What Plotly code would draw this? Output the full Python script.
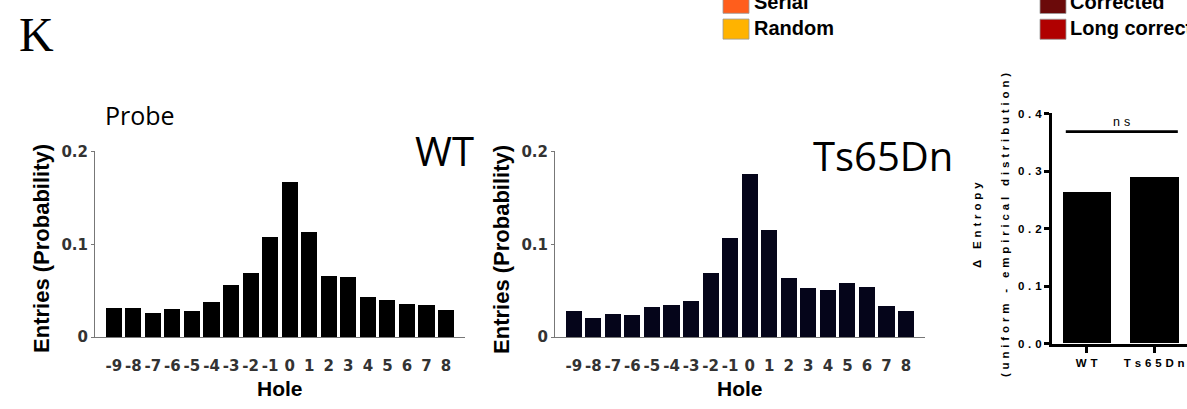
import plotly.graph_objects as go

# ---- data -------------------------------------------------------------
holes = [-9, -8, -7, -6, -5, -4, -3, -2, -1, 0, 1, 2, 3, 4, 5, 6, 7, 8]
hole_labels = [str(h) for h in holes]

wt_prob = [0.031, 0.031, 0.026, 0.030, 0.028, 0.037, 0.056, 0.069, 0.107,
           0.167, 0.113, 0.065, 0.064, 0.043, 0.040, 0.035, 0.034, 0.029]
ts_prob = [0.028, 0.020, 0.025, 0.023, 0.032, 0.034, 0.038, 0.069, 0.106,
           0.175, 0.115, 0.063, 0.052, 0.050, 0.058, 0.054, 0.033, 0.028]

groups = ["WT", "Ts65Dn"]
delta_entropy = [0.262, 0.289]

hist_ticks = [0, 0.1, 0.2]
hist_tick_labels = ["0", "0.1", "0.2"]
ent_ticks = [0.0, 0.1, 0.2, 0.3, 0.4]
ent_tick_labels = ["0.0", "0.1", "0.2", "0.3", "0.4"]

legend_left = [("Serial", "#ff5e1c"), ("Random", "#ffb300")]
legend_right = [("Corrected", "#6b0a0a"), ("Long corrected", "#b00000")]

# ---- page geometry (pixels) -------------------------------------------
W, H = 1187, 409


def fx(p):
    return p / W


def fy(p):
    return 1 - p / H


def spaced(s, gap="\u2004"):
    """Letter-spaced text (Prism style)."""
    return gap.join(s)


fig = go.Figure()

fig.add_trace(go.Bar(x=holes, y=wt_prob, width=0.82, marker_color="#000000",
                     marker_line_width=0, xaxis="x", yaxis="y",
                     showlegend=False))
fig.add_trace(go.Bar(x=holes, y=ts_prob, width=0.82, marker_color="#05051a",
                     marker_line_width=0, xaxis="x2", yaxis="y2",
                     showlegend=False))
fig.add_trace(go.Bar(x=[0, 1], y=delta_entropy, width=0.72,
                     marker_color="#000000", marker_line_width=0,
                     xaxis="x3", yaxis="y3", showlegend=False))

tick_font = dict(family="DejaVu Sans", size=15, color="#333333", weight="bold")
hist_x = dict(range=[-9.96, 8.97], tickmode="array", tickvals=holes,
              ticktext=hole_labels, showline=True, linecolor="#777777",
              linewidth=1, ticks="outside", ticklen=15,
              tickcolor="rgba(0,0,0,0)", tickfont=tick_font,
              showgrid=False, zeroline=False, fixedrange=True)
hist_y = dict(range=[0, 0.2], tickmode="array", tickvals=hist_ticks,
              ticktext=hist_tick_labels, showline=True, linecolor="#777777",
              linewidth=1, ticks="outside", ticklen=3, tickcolor="#777777",
              tickfont=tick_font, showgrid=False, zeroline=False)

ent_font = dict(family="Liberation Sans", size=11.5, color="#000000",
                weight="bold")

fig.update_layout(
    width=W, height=H,
    margin=dict(l=0, r=0, t=0, b=0),
    paper_bgcolor="white", plot_bgcolor="white",
    bargap=0,
    xaxis=dict(domain=[fx(95), fx(465)], anchor="y", **hist_x),
    yaxis=dict(domain=[fy(343.3), fy(149)], anchor="x", **hist_y),
    xaxis2=dict(domain=[fx(555), fx(925)], anchor="y2", **hist_x),
    yaxis2=dict(domain=[fy(343.3), fy(149)], anchor="x2", **hist_y),
    xaxis3=dict(domain=[fx(1051.7), 1.0], anchor="y3",
                range=[-0.519, 1.486], tickmode="array", tickvals=[0, 1],
                ticktext=[spaced(g) for g in groups], showline=True,
                linecolor="#000000", linewidth=2.7, ticks="outside",
                ticklen=7, tickwidth=2.5, tickcolor="#000000",
                tickfont=ent_font, showgrid=False, zeroline=False),
    yaxis3=dict(domain=[fy(350), fy(109.3)], anchor="x3",
                range=[0, 0.4], tickmode="array", tickvals=ent_ticks,
                ticktext=[spaced(t) for t in ent_tick_labels],
                showline=True, linecolor="#000000", linewidth=2.7,
                ticks="outside", ticklen=5, tickwidth=2.5,
                tickcolor="#000000", tickfont=ent_font, showgrid=False,
                zeroline=False),
)

ann = []


def text(x, y, s, size, family="Liberation Sans", weight="normal",
         color="#000000", xanchor="center", yanchor="middle", angle=0):
    ann.append(dict(x=fx(x), y=fy(y), xref="paper", yref="paper", text=s,
                    showarrow=False, xanchor=xanchor, yanchor=yanchor,
                    textangle=angle,
                    font=dict(family=family, size=size, color=color,
                              weight=weight)))


# panel letter and headings
text(36.5, 27, "K", 48, family="Liberation Serif")
text(140, 111, "Probe", 25, family="Open Sans")
text(444, 148, "WT", 40, family="Open Sans")
text(883, 153, "Ts65Dn", 40, family="Open Sans")

# histogram axis titles
for cx in (280, 740):
    text(cx, 397, "Hole", 21, weight="bold")
for cx in (42, 502):
    text(cx, 251, "Entries (Probability)", 22, weight="bold", angle=-90)

# entropy panel titles
text(977, 226, spaced("\u0394 Entropy"), 11.5, weight="bold", angle=-90)
text(1005, 226, spaced("(uniform - empirical distribution)"), 11.5,
     weight="bold", angle=-90)
text(1121, 118, spaced("ns"), 12.5)

# cut-off legend at the top
shapes = []
row_pitch = 27
for i, (name, col) in enumerate(legend_left):
    top = 10.5 - row_pitch * (len(legend_left) - 1 - i)
    shapes.append(dict(type="rect", xref="paper", yref="paper",
                       x0=fx(723), x1=fx(749), y0=fy(top + 21), y1=fy(top),
                       fillcolor=col, line=dict(color="#999999", width=0.8)))
    text(752, top + 9.5, name, 20, weight="bold", xanchor="left")
for i, (name, col) in enumerate(legend_right):
    top = 10.7 - row_pitch * (len(legend_right) - 1 - i)
    shapes.append(dict(type="rect", xref="paper", yref="paper",
                       x0=fx(1040), x1=fx(1066), y0=fy(top + 21), y1=fy(top),
                       fillcolor=col, line=dict(color="#999999", width=0.8)))
    text(1068, top + 9.5, name, 20, weight="bold", xanchor="left")

# significance bracket
shapes.append(dict(type="line", xref="x3", yref="y3", x0=-0.31, x1=1.35,
                   y0=0.3685, y1=0.3685,
                   line=dict(color="#000000", width=2.7)))

fig.update_layout(annotations=ann, shapes=shapes)

fig.write_html("out.html")
